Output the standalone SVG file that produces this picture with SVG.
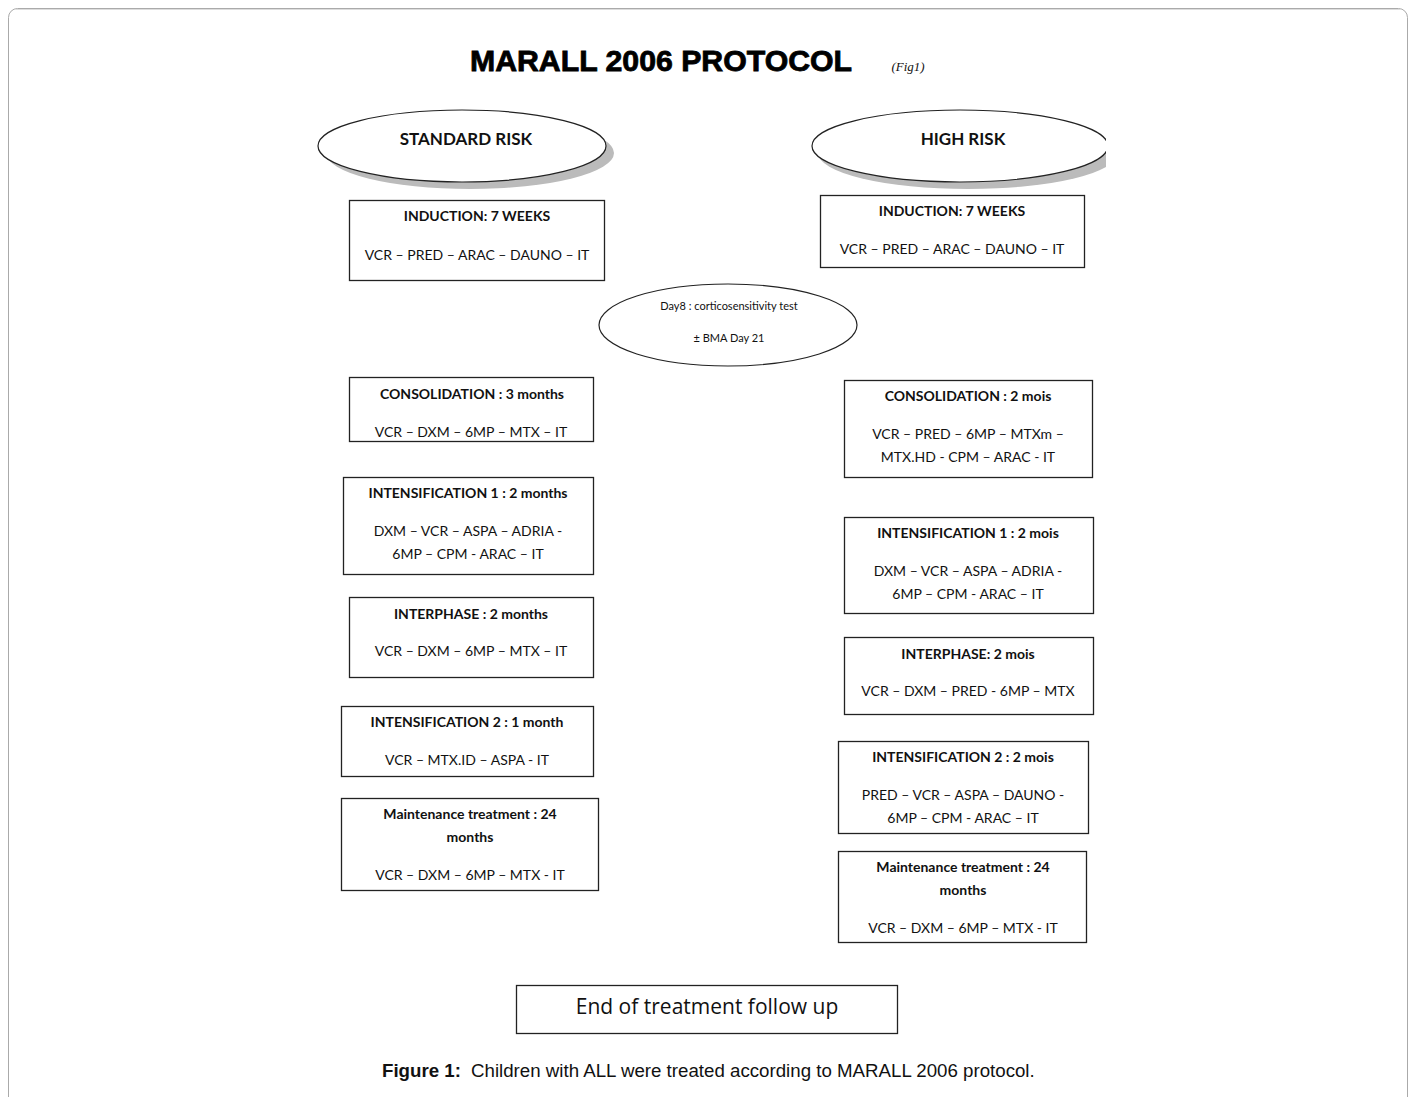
<svg xmlns="http://www.w3.org/2000/svg" width="1416" height="1097" viewBox="0 0 1416 1097">
<defs>
<style>
.box{fill:#fff;stroke:#222;stroke-width:1.3}
.t{font-family:Lato,"Open Sans",sans-serif;font-size:14px;font-weight:bold;fill:#111;text-anchor:middle}
.b{font-family:Lato,"Open Sans",sans-serif;font-size:14px;fill:#111;text-anchor:middle}
.hd{font-family:Lato,"Open Sans",sans-serif;font-size:17px;font-weight:bold;fill:#111;text-anchor:middle}
.ell{fill:#fff;stroke:#222;stroke-width:1.2}
.sh{fill:#bbb}
.sm{font-family:Lato,sans-serif;font-size:11px;fill:#111;text-anchor:middle}
</style>
<clipPath id="clipR"><rect x="780" y="90" width="326" height="120"/></clipPath>
</defs>
<rect x="8.5" y="8.5" width="1399" height="1120" rx="9" fill="#fff" stroke="#aaa" stroke-width="1"/>
<line x1="16" y1="9.5" x2="1400" y2="9.5" stroke="#ddd" stroke-width="1"/>

<text x="661" y="71" font-family="'Liberation Sans',Arial,sans-serif" font-size="29" font-weight="900" fill="#000" text-anchor="middle" textLength="382" lengthAdjust="spacingAndGlyphs" stroke="#000" stroke-width="0.8">MARALL 2006 PROTOCOL</text>
<text x="908" y="71" font-family="'Liberation Serif',serif" font-size="13" font-style="italic" fill="#111" text-anchor="middle">(Fig1)</text>

<g id="standard-risk">
<ellipse class="sh" cx="470" cy="153" rx="144" ry="36"/>
<ellipse class="ell" cx="462" cy="146" rx="144" ry="36"/>
<text class="hd" x="466" y="145">STANDARD RISK</text>
</g>
<g id="high-risk" clip-path="url(#clipR)">
<ellipse class="sh" cx="968" cy="153" rx="150" ry="36"/>
<ellipse class="ell" cx="960" cy="146" rx="148" ry="36"/>
<text class="hd" x="963" y="145">HIGH RISK</text>
</g>

<g id="day8">
<ellipse class="ell" cx="728" cy="325" rx="129" ry="41"/>
<text class="sm" x="729" y="310">Day8 : corticosensitivity test</text>
<text class="sm" x="729" y="342">± BMA Day 21</text>
</g>

<g id="sr-induction">
<rect class="box" x="349.5" y="200.5" width="255" height="80"/>
<text class="t" x="477" y="221">INDUCTION: 7 WEEKS</text>
<text class="b" x="477" y="260">VCR – PRED – ARAC – DAUNO – IT</text>
</g>
<g id="sr-consolidation">
<rect class="box" x="349.5" y="377.5" width="244" height="64"/>
<text class="t" x="472" y="399">CONSOLIDATION : 3 months</text>
<text class="b" x="471" y="437">VCR – DXM – 6MP – MTX – IT</text>
</g>
<g id="sr-intensification1">
<rect class="box" x="343.5" y="477.5" width="250" height="97"/>
<text class="t" x="468" y="498">INTENSIFICATION 1 : 2 months</text>
<text class="b" x="468" y="536">DXM – VCR – ASPA – ADRIA -</text>
<text class="b" x="468" y="559">6MP – CPM - ARAC – IT</text>
</g>
<g id="sr-interphase">
<rect class="box" x="349.5" y="597.5" width="244" height="80"/>
<text class="t" x="471" y="619">INTERPHASE : 2 months</text>
<text class="b" x="471" y="656">VCR – DXM – 6MP – MTX – IT</text>
</g>
<g id="sr-intensification2">
<rect class="box" x="341.5" y="706.5" width="252" height="70"/>
<text class="t" x="467" y="727">INTENSIFICATION 2 : 1 month</text>
<text class="b" x="467" y="765">VCR – MTX.ID – ASPA - IT</text>
</g>
<g id="sr-maintenance">
<rect class="box" x="341.5" y="798.5" width="257" height="92"/>
<text class="t" x="470" y="819">Maintenance treatment : 24</text>
<text class="t" x="470" y="842">months</text>
<text class="b" x="470" y="880">VCR – DXM – 6MP – MTX - IT</text>
</g>

<g id="hr-induction">
<rect class="box" x="820.5" y="195.5" width="264" height="72"/>
<text class="t" x="952" y="216">INDUCTION: 7 WEEKS</text>
<text class="b" x="952" y="254">VCR – PRED – ARAC – DAUNO – IT</text>
</g>
<g id="hr-consolidation">
<rect class="box" x="844.5" y="380.5" width="248" height="97"/>
<text class="t" x="968" y="401">CONSOLIDATION : 2 mois</text>
<text class="b" x="968" y="439">VCR – PRED – 6MP – MTXm –</text>
<text class="b" x="968" y="462">MTX.HD - CPM – ARAC - IT</text>
</g>
<g id="hr-intensification1">
<rect class="box" x="844.5" y="517.5" width="249" height="96"/>
<text class="t" x="968" y="538">INTENSIFICATION 1 : 2 mois</text>
<text class="b" x="968" y="576">DXM – VCR – ASPA – ADRIA -</text>
<text class="b" x="968" y="599">6MP – CPM - ARAC – IT</text>
</g>
<g id="hr-interphase">
<rect class="box" x="844.5" y="637.5" width="249" height="77"/>
<text class="t" x="968" y="659">INTERPHASE: 2 mois</text>
<text class="b" x="968" y="696">VCR – DXM – PRED - 6MP – MTX</text>
</g>
<g id="hr-intensification2">
<rect class="box" x="838.5" y="741.5" width="250" height="92"/>
<text class="t" x="963" y="762">INTENSIFICATION 2 : 2 mois</text>
<text class="b" x="963" y="800">PRED – VCR – ASPA – DAUNO -</text>
<text class="b" x="963" y="823">6MP – CPM - ARAC – IT</text>
</g>
<g id="hr-maintenance">
<rect class="box" x="838.5" y="851.5" width="248" height="91"/>
<text class="t" x="963" y="872">Maintenance treatment : 24</text>
<text class="t" x="963" y="895">months</text>
<text class="b" x="963" y="933">VCR – DXM – 6MP – MTX - IT</text>
</g>

<g id="end">
<rect class="box" x="516.5" y="985.5" width="381" height="48"/>
<text x="707" y="1014" font-family="'Open Sans',Lato,sans-serif" font-size="21" fill="#111" text-anchor="middle">End of treatment follow up</text>
</g>

<g id="connectors"></g>

<text x="382" y="1077" font-family="'Liberation Sans',Arial,sans-serif" font-size="18.7" fill="#111"><tspan font-weight="bold">Figure 1:</tspan><tspan x="471">Children with ALL were treated according to MARALL 2006 protocol.</tspan></text>
</svg>
